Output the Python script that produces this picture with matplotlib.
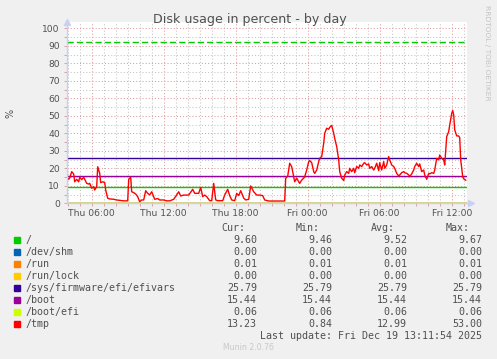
import matplotlib
matplotlib.use("Agg")
import matplotlib.pyplot as plt
import matplotlib.dates as mdates
import pandas as pd

# /tmp usage (Thu 18 / Fri 19 Dec 2025)
tmp_thu_times = ["03:55", "04:05", "04:10", "04:20", "04:30", "04:35", "04:45", "04:55",
                 "05:00", "05:10", "05:20", "05:25", "05:35", "05:45", "05:50", "06:00",
                 "06:10", "06:15", "06:25", "06:30", "06:40", "06:45", "06:55", "07:05",
                 "07:10", "07:20", "07:30", "07:50", "08:05", "08:20", "08:40", "09:00",
                 "09:05", "09:15", "09:20", "09:30", "09:40", "09:50", "10:00", "10:10",
                 "10:20", "10:30", "10:40", "10:50", "11:00", "11:10", "11:15", "11:30",
                 "11:40", "12:00", "12:15", "12:30", "12:50", "13:05", "13:15", "13:25",
                 "13:40", "14:05", "14:25", "14:35", "14:55", "15:05", "15:15", "15:25",
                 "15:35", "15:50", "16:00", "16:10", "16:20", "16:30", "16:55", "17:05",
                 "17:20", "17:30", "17:40", "17:55", "18:05", "18:15", "18:25", "18:40",
                 "18:50", "19:05", "19:15", "19:30", "19:45", "20:00", "20:15", "20:25",
                 "20:45", "22:05", "22:10", "22:20", "22:30", "22:40", "22:50", "22:55",
                 "23:05", "23:15", "23:20", "23:30", "23:40", "23:45", "23:55"]
tmp_thu_vals = [14.9, 13.7, 14.4, 18.1, 16.7, 12.3, 13.7, 12.3,
                14.9, 13.5, 14.9, 13.7, 11.4, 11.0, 11.4, 8.6,
                9.5, 7.6, 9.5, 20.9, 17.1, 11.8, 12.3, 11.8,
                7.6, 2.9, 2.5, 2.3, 1.9, 1.7, 1.4, 1.4,
                13.7, 14.9, 6.6, 6.1, 5.3, 3.8, 0.9, 1.9,
                1.9, 7.2, 5.7, 4.8, 6.6, 3.8, 2.3, 2.7,
                1.9, 1.9, 1.4, 1.4, 2.3, 4.8, 6.6, 4.2,
                4.7, 4.7, 8.0, 5.7, 5.7, 9.1, 3.8, 4.7,
                3.8, 1.5, 1.5, 11.4, 1.9, 1.5, 1.5, 4.7,
                8.0, 4.4, 1.9, 1.5, 5.7, 4.4, 7.2, 3.0,
                1.9, 2.3, 9.9, 6.6, 4.7, 4.7, 4.4, 1.9,
                1.3, 1.3, 14.3, 15.5, 22.9, 20.9, 15.2, 12.3,
                14.4, 12.3, 11.4, 13.3, 14.4, 15.2, 19.0]
tmp_fri_times = ["00:05", "00:10", "00:20", "00:30", "00:35", "00:45", "00:55", "01:00",
                 "01:10", "01:20", "01:25", "01:35", "01:45", "01:50", "02:00", "02:10",
                 "02:15", "02:25", "02:35", "02:40", "02:50", "03:00", "03:05", "03:15",
                 "03:25", "03:30", "03:40", "03:50", "03:55", "04:05", "04:15", "04:20",
                 "04:30", "04:40", "04:45", "04:55", "05:05", "05:10", "05:20", "05:30",
                 "05:35", "05:45", "05:55", "06:00", "06:10", "06:20", "06:25", "06:35",
                 "06:45", "06:50", "07:00", "07:10", "07:15", "07:25", "07:35", "07:40",
                 "07:50", "08:00", "08:05", "08:15", "08:25", "08:30", "08:40", "08:50",
                 "08:55", "09:05", "09:15", "09:20", "09:30", "09:40", "09:45", "09:55",
                 "10:05", "10:10", "10:20", "10:30", "10:35", "10:45", "10:55", "11:00",
                 "11:10", "11:20", "11:25", "11:35", "11:45", "11:50", "12:00", "12:05",
                 "12:10", "12:15", "12:25", "12:35", "12:40", "12:45", "12:55", "13:00",
                 "13:10"]
tmp_fri_vals = [23.8, 24.4, 23.2, 18.1, 17.1, 19.0, 23.8, 25.7,
                26.7, 34.3, 40.0, 42.9, 42.3, 43.4, 44.5, 40.0,
                37.1, 32.4, 24.8, 18.1, 14.3, 13.0, 16.2, 18.1,
                17.1, 20.0, 18.1, 20.0, 17.5, 21.0, 20.0, 21.9,
                21.0, 22.9, 23.2, 21.9, 22.5, 20.0, 21.0, 19.0,
                20.0, 22.9, 18.7, 23.2, 19.0, 23.8, 20.0, 21.9,
                26.7, 24.8, 21.9, 21.0, 20.0, 17.1, 15.6, 16.2,
                17.5, 18.1, 17.5, 17.1, 16.2, 15.2, 16.8, 19.0,
                21.0, 22.9, 21.0, 22.5, 18.1, 19.0, 16.2, 13.7,
                17.1, 16.8, 17.5, 17.1, 19.0, 25.7, 24.8, 27.6,
                25.7, 24.8, 21.9, 38.1, 41.0, 44.7, 51.4, 53.0,
                50.5, 42.0, 38.5, 38.5, 37.5, 25.0, 15.2, 14.0,
                13.2]

labels = ["/", "/dev/shm", "/run", "/run/lock", "/sys/firmware/efi/efivars",
          "/boot", "/boot/efi", "/tmp"]
colors = ["#00CC00", "#0066B3", "#FF8000", "#FFCC00", "#330099",
          "#990099", "#CCFF00", "#FF0000"]
cur = [9.60, 0.00, 0.01, 0.00, 25.79, 15.44, 0.06, 13.23]
mins = [9.46, 0.00, 0.01, 0.00, 25.79, 15.44, 0.06, 0.84]
avgs = [9.52, 0.00, 0.01, 0.00, 25.79, 15.44, 0.06, 12.99]
maxs = [9.67, 0.00, 0.01, 0.00, 25.79, 15.44, 0.06, 53.00]
warning = 92

start = pd.Timestamp("2025-12-18 03:55")
end = pd.Timestamp("2025-12-19 13:15")
tmp_times = ([pd.Timestamp("2025-12-18 " + t) for t in tmp_thu_times] +
             [pd.Timestamp("2025-12-19 " + t) for t in tmp_fri_times])
tmp_vals = tmp_thu_vals + tmp_fri_vals

txt = "#505050"
W, H = 497, 359
fig = plt.figure(figsize=(W / 100, H / 100), dpi=100, facecolor="#F0F0F0")

# plot box in pixels: x 66.7..466.7, y(0)=203.3, white canvas up to y 21.7
left, right, y0, ytop = 66.7, 466.7, 203.3, 21.7
ax = fig.add_axes([left / W, 1 - y0 / H, (right - left) / W, (y0 - ytop) / H])
ax.set_facecolor("white")
ax.set_xlim(start, end)
ax.set_ylim(0, (y0 - ytop) / 1.75)

ax.xaxis.set_major_locator(mdates.HourLocator(byhour=[0, 6, 12, 18]))
ax.xaxis.set_minor_locator(mdates.HourLocator())
ax.xaxis.set_major_formatter(mdates.DateFormatter("%a %H:%M"))
ax.set_yticks(range(0, 101, 10))
ax.set_yticks(range(5, 100, 10), minor=True)

ax.grid(which="minor", color="#C4C4C4", linestyle=(0, (1, 2)), linewidth=0.75)
ax.grid(which="major", color="#E09A9A", linestyle=(0, (1, 2)), linewidth=0.75)
ax.set_axisbelow(True)

ax.tick_params(which="both", length=2, width=0.7, color="#D8A0A0", labelsize=6.6,
               labelcolor=txt, pad=2)
ax.tick_params(axis="y", pad=3)
for s in ["top", "right"]:
    ax.spines[s].set_visible(False)
for s in ["left", "bottom"]:
    ax.spines[s].set_color("#C8D0F4")
    ax.spines[s].set_linewidth(1.0)

# constant series
for lab, col, v in zip(labels[:-1], colors[:-1], cur[:-1]):
    ax.plot([start, end], [v, v], color=col, linewidth=1.0)
ax.plot(tmp_times, tmp_vals, color=colors[-1], linewidth=1.0)
ax.plot([start, end], [warning, warning], color="#00CC00", linewidth=1.0,
        dashes=(4.5, 2.2))

# axis arrows
ax.plot([start], [ax.get_ylim()[1]], marker="^", markersize=4, color="#C8D0F4",
        clip_on=False)
ax.plot([end + pd.Timedelta(minutes=20)], [0], marker=">", markersize=4,
        color="#C8D0F4", clip_on=False)

fig.text(250 / W, 1 - 19 / H, "Disk usage in percent - by day", ha="center",
         va="center", fontsize=9.1, color=txt)
fig.text(10 / W, 1 - 113 / H, "%", rotation=90, ha="center", va="center",
         fontsize=7, color=txt)
fig.text(487 / W, 1 - 53 / H, "RRDTOOL / TOBI OETIKER", rotation=270, ha="center",
         va="center", fontsize=5.4, color="#C4C4C4")

# legend table
mono = dict(family="DejaVu Sans Mono", fontsize=7.2, color=txt, va="center")
col_x = [257, 332, 407, 482]
for x, head in zip(col_x, ["Cur:", "Min:", "Avg:", "Max:"]):
    fig.text((x - 12) / W, 1 - 227.7 / H, head, ha="right", **mono)
for i, lab in enumerate(labels):
    y = 240 + 12 * i
    fig.patches.append(plt.Rectangle(((14) / W, 1 - (y + 3) / H), 6 / W, 6 / H,
                                     transform=fig.transFigure, color=colors[i]))
    fig.text(26 / W, 1 - y / H, lab, ha="left", **mono)
    for x, arr in zip(col_x, [cur, mins, avgs, maxs]):
        fig.text(x / W, 1 - y / H, f"{arr[i]:.2f}", ha="right", **mono)
fig.text(482 / W, 1 - 335.7 / H, "Last update: Fri Dec 19 13:11:54 2025", ha="right",
         **mono)
fig.text(248 / W, 1 - 348 / H, "Munin 2.0.76", ha="center", va="center",
         fontsize=5.6, color="#C8C8C8")

fig.savefig("out.png", dpi=100, facecolor=fig.get_facecolor())
